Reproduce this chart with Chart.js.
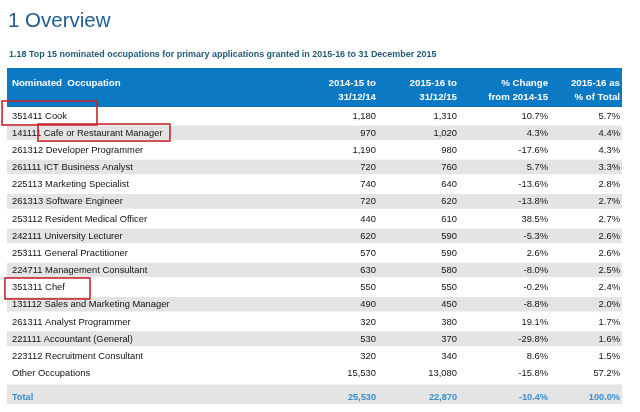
<!DOCTYPE html>
<html>
<head>
<meta charset="utf-8">
<script src="https://cdn.jsdelivr.net/npm/chart.js@4/dist/chart.umd.min.js"></script>
<style>
  html, body { margin: 0; padding: 0; background: #ffffff; }
  canvas { display: block; }
</style>
</head>
<body>
<canvas id="c" width="640" height="412"></canvas>
<script>
// ---------- data ----------
const occupations = [
  '351411 Cook',
  '141111 Cafe or Restaurant Manager',
  '261312 Developer Programmer',
  '261111 ICT Business Analyst',
  '225113 Marketing Specialist',
  '261313 Software Engineer',
  '253112 Resident Medical Officer',
  '242111 University Lecturer',
  '253111 General Practitioner',
  '224711 Management Consultant',
  '351311 Chef',
  '131112 Sales and Marketing Manager',
  '261311 Analyst Programmer',
  '221111 Accountant (General)',
  '223112 Recruitment Consultant',
  'Other Occupations'
];
const granted2014 = [1180, 970, 1190, 720, 740, 720, 440, 620, 570, 630, 550, 490, 320, 530, 320, 15530];
const granted2015 = [1310, 1020, 980, 760, 640, 620, 610, 590, 590, 580, 550, 450, 380, 370, 340, 13080];
const pctChange   = [10.7, 4.3, -17.6, 5.7, -13.6, -13.8, 38.5, -5.3, 2.6, -8.0, -0.2, -8.8, 19.1, -29.8, 8.6, -15.8];
const pctOfTotal  = [5.7, 4.4, 4.3, 3.3, 2.8, 2.7, 2.7, 2.6, 2.6, 2.5, 2.4, 2.0, 1.7, 1.6, 1.5, 57.2];
const totalLabel = 'Total';
const total2014 = 25530;
const total2015 = 22870;
const totalChange = -10.4;
const totalShare = 100.0;
const highlightedRows = [0, 1, 10];

const titleText = '1 Overview';
const subtitleText = '1.18 Top 15 nominated occupations for primary applications granted in 2015-16 to 31 December 2015';
const headerLine1 = ['Nominated  Occupation', '2014-15 to', '2015-16 to', '% Change', '2015-16 as'];
const headerLine2 = ['', '31/12/14', '31/12/15', 'from 2014-15', '% of Total'];

// ---------- layout / style ----------
const FONT = '"Liberation Sans", Arial, sans-serif';
const BLUE = '#0b79c4';
const GRAY = '#e4e4e4';
const TOTAL_GAP = 1.28;            // extra spacing (in rows) before the Total row
const colX = [0.008, 0.600, 0.7317, 0.8797, 0.9967]; // column anchors as fraction of table width
const colAlign = ['left', 'right', 'right', 'right', 'right'];
const boxes = [  // red highlight boxes: x fractions, y offsets from row centre (px)
  { x0: -0.008, x1: 0.1463, dy0: -14.6, dy1: 9.4 },
  { x0: 0.0504, x1: 0.265, dy0: -8.7, dy1: 8.3 },
  { x0: -0.0033, x1: 0.135, dy0: -9.2, dy1: 11.8 }
];

const fmtInt = v => v.toLocaleString('en-US');
const fmtPct = v => v.toFixed(1) + '%';

const rowPos = occupations.map((_, i) => i);
const totalPos = occupations.length - 1 + TOTAL_GAP;

const shadeData = rowPos.map(p => ({ y: p, x: [0, 1] }));
const shadeColors = rowPos.map(p => (p % 2 === 1 && p < occupations.length - 1) ? GRAY : '#ffffff');

const tablePlugin = {
  id: 'tableText',
  beforeDraw(chart) {
    const ctx = chart.ctx;
    const a = chart.chartArea;
    const xs = chart.scales.x;
    ctx.save();
    ctx.fillStyle = '#ffffff';
    ctx.fillRect(0, 0, chart.width, chart.height);
    // title
    ctx.fillStyle = '#215d8f';
    ctx.font = '20.5px ' + FONT;
    ctx.textAlign = 'left';
    ctx.textBaseline = 'alphabetic';
    ctx.fillText(titleText, 8, 27);
    // subtitle
    ctx.fillStyle = '#1f5b78';
    ctx.font = 'bold 8.95px ' + FONT;
    ctx.textBaseline = 'middle';
    ctx.fillText(subtitleText, 9, 55);
    // header band
    ctx.fillStyle = BLUE;
    ctx.fillRect(a.left, a.top - 39, a.right - a.left, 39);
    ctx.fillStyle = '#ffffff';
    ctx.font = 'bold 9.7px ' + FONT;
    for (let c = 0; c < headerLine1.length; c++) {
      ctx.textAlign = colAlign[c];
      const x = xs.getPixelForValue(colX[c]);
      ctx.fillText(headerLine1[c], x, a.top - 24);
      if (headerLine2[c]) ctx.fillText(headerLine2[c], x, a.top - 10);
    }
    ctx.restore();
  },
  afterDatasetsDraw(chart) {
    const ctx = chart.ctx;
    const xs = chart.scales.x;
    const ys = chart.scales.y;
    ctx.save();
    ctx.textBaseline = 'middle';
    const drawRow = (cells, pos, style) => {
      const y = ys.getPixelForValue(pos) + 0.5;
      ctx.font = style.font;
      ctx.fillStyle = style.color;
      cells.forEach((t, c) => {
        ctx.textAlign = colAlign[c];
        ctx.fillText(t, xs.getPixelForValue(colX[c]), y);
      });
    };
    const bodyStyle = { font: '9.4px ' + FONT, color: '#111111' };
    occupations.forEach((name, i) => {
      drawRow([name, fmtInt(granted2014[i]), fmtInt(granted2015[i]), fmtPct(pctChange[i]), fmtPct(pctOfTotal[i])], rowPos[i], bodyStyle);
    });
    drawRow([totalLabel, fmtInt(total2014), fmtInt(total2015), fmtPct(totalChange), fmtPct(totalShare)],
      totalPos + 0.1, { font: 'bold 9.2px ' + FONT, color: '#3a8dcc' });
    // red highlight boxes
    ctx.strokeStyle = '#c4262e';
    ctx.lineWidth = 1.6;
    highlightedRows.forEach((r, k) => {
      const b = boxes[k];
      const yc = ys.getPixelForValue(rowPos[r]);
      const x0 = xs.getPixelForValue(b.x0), x1 = xs.getPixelForValue(b.x1);
      ctx.strokeRect(x0, yc + b.dy0, x1 - x0, b.dy1 - b.dy0);
    });
    ctx.restore();
  }
};

new Chart(document.getElementById('c'), {
  type: 'bar',
  data: {
    datasets: [
      {
        label: 'rows',
        data: shadeData,
        backgroundColor: shadeColors,
        borderWidth: 0,
        barPercentage: 1,
        categoryPercentage: 1,
        grouped: false
      },
      {
        label: 'total',
        data: [{ y: totalPos, x: [0, 1] }],
        backgroundColor: GRAY,
        borderWidth: 0,
        barThickness: 20,
        grouped: false
      }
    ]
  },
  options: {
    indexAxis: 'y',
    responsive: false,
    animation: false,
    layout: { padding: { top: 107, left: 7, right: 18, bottom: 8 } },
    plugins: { legend: { display: false }, tooltip: { enabled: false }, title: { display: false } },
    scales: {
      x: { type: 'linear', min: 0, max: 1, display: false },
      y: { type: 'linear', min: -0.5, max: 16.81, reverse: true, offset: false, display: false }
    }
  },
  plugins: [tablePlugin]
});
</script>
</body>
</html>
